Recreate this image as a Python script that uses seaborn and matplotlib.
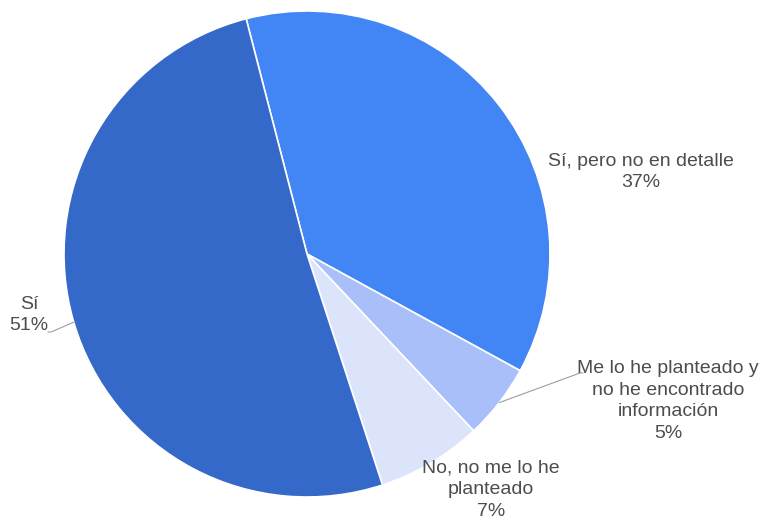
import numpy as np
import seaborn as sns
import matplotlib.pyplot as plt

# datos de la encuesta
categorias = ["Sí, pero no en detalle", "Me lo he planteado y\nno he encontrado\ninformación",
              "No, no me lo he\nplanteado", "Sí"]
porcentajes = [37, 5, 7, 51]
colores = ["#4285F4", "#A8BFFA", "#DCE4FC", "#3469C9"]

sns.set_theme(style="white")
plt.rcParams['font.family'] = ['Liberation Sans', 'DejaVu Sans']

fig = plt.figure(figsize=(7.62, 5.23), dpi=100)
ax = fig.add_axes([0, 0, 1, 1])

cx, cy, r = 307, 269, 243
wedges, _ = ax.pie(porcentajes, colors=colores, startangle=104.5, counterclock=False,
                   center=(cx, cy), radius=r, frame=True,
                   wedgeprops=dict(edgecolor='white', linewidth=1.2))
ax.set_xlim(0, 762)
ax.set_ylim(0, 523)
ax.set_aspect('equal')
ax.axis('off')

color_texto = "#4d4d4d"
fs = 14

# posiciones de las etiquetas (px desde arriba)
etiquetas = [
    (641, 172, None),
    (668, 401, (580, 373)),
    (491, 490, None),
    (29, 315, (51, 332)),
]
for w, cat, pct, (lx, ly, codo) in zip(wedges, categorias, porcentajes, etiquetas):
    ax.text(lx, 523 - ly, f"{cat}\n{pct}%", ha='center', va='center',
            fontsize=fs, color=color_texto, linespacing=1.36)
    if codo is not None:
        ang = np.deg2rad((w.theta1 + w.theta2) / 2)
        px, py = cx + r * np.cos(ang), cy + r * np.sin(ang)
        ex, ey = codo
        ax.plot([px, ex, ex - 3 if ex < cx else ex + 3], [py, 523 - ey, 523 - ey],
                color="#9E9E9E", linewidth=0.8)

fig.savefig("out.png", dpi=100)
